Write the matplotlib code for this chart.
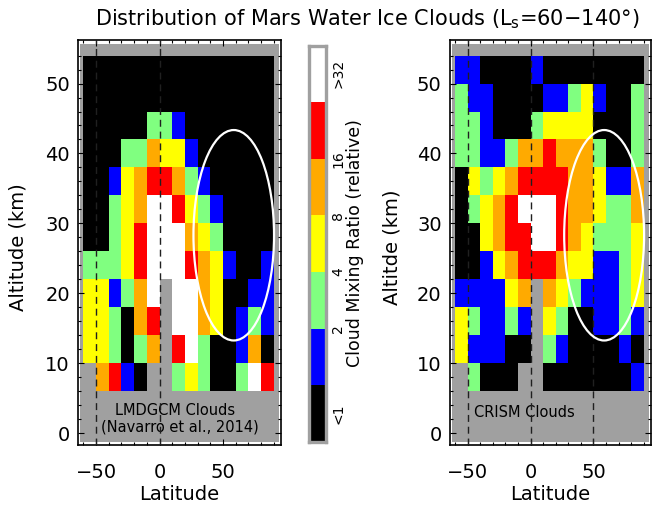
import numpy as np
import matplotlib
matplotlib.use("Agg")
import matplotlib.pyplot as plt
from matplotlib.colors import ListedColormap, BoundaryNorm
from matplotlib.patches import Ellipse, Rectangle
import matplotlib.transforms as mtransforms

# class index: 0 <1, 1 1-2, 2 2-4, 3 4-8, 4 8-16, 5 16-32, 6 >32, -1 no data
lat_edges = np.arange(-60, 100, 10)
alt_edges = np.arange(6, 58, 4)

# rows listed from top (50-54 km) down to bottom (6-10 km)
lmd_rows = [
  [0, 0, 0, 0, 0, 0, 0, 0, 0, 0, 0, 0, 0, 0, 0],
  [0, 0, 0, 0, 0, 0, 0, 0, 0, 0, 0, 0, 0, 0, 0],
  [0, 0, 0, 0, 0, 2, 2, 1, 0, 0, 0, 0, 0, 0, 0],
  [0, 0, 0, 2, 2, 4, 3, 3, 1, 0, 0, 0, 0, 0, 0],
  [0, 0, 1, 3, 4, 5, 5, 4, 2, 1, 0, 0, 0, 0, 0],
  [0, 0, 2, 3, 4, 6, 6, 5, 3, 2, 1, 0, 0, 0, 0],
  [0, 0, 2, 3, 5, 6, 6, 6, 4, 3, 2, 0, 0, 0, 0],
  [2, 2, 2, 3, 5, 6, 6, 6, 5, 4, 3, 1, 0, 0, 1],
  [3, 3, 1, 2, 4, 6, -1, 6, 6, 4, 3, 0, 0, 1, 1],
  [3, 3, 2, 0, 4, 5, -1, 6, 6, 4, 3, 0, 1, 2, 1],
  [3, 3, 2, 0, 2, 4, -1, 5, 6, 2, 0, 0, 1, 4, 0],
  [-1, 4, 5, 1, 0, -1, -1, 2, 3, 2, 0, 0, 2, 6, 5],
]

crism_rows = [
  [1, 1, 0, 0, 0, 0, 1, 0, 0, 0, 0, 0, 0, 0, 0],
  [2, 1, 1, 0, 0, 0, 0, 1, 1, 2, 3, 1, 0, 0, 2],
  [2, 2, 1, 0, 0, 0, 2, 3, 3, 3, 3, 0, 0, 0, 2],
  [2, 2, 1, 1, 2, 4, 4, 5, 4, 4, 4, 2, 0, 0, 2],
  [0, 3, 2, 3, 4, 5, 5, 5, 5, 4, 4, 3, 1, 1, 4],
  [0, 2, 3, 4, 5, 6, 6, 6, 5, 4, 4, 3, 2, 2, 4],
  [0, 0, 3, 4, 5, 5, 6, 6, 5, 4, 3, 2, 2, 2, 3],
  [0, 0, 1, 3, 4, 5, 5, 5, 4, 3, 3, 1, 1, 2, 3],
  [1, 1, 1, 1, 3, 4, -1, 4, 3, 2, 1, 1, 1, 2, 3],
  [3, 2, 1, 1, 2, 1, -1, 3, 2, 0, 0, 1, 1, 2, 1],
  [3, 1, 1, 1, 0, 0, -1, 2, 1, 0, 0, 0, 0, 1, 0],
  [-1, 2, 0, 0, 0, -1, -1, 0, 0, 0, 0, 0, 0, 0, 1],
]

cbar_labels = ["<1", "2", "4", "8", "16", ">32"]
cbar_label_pos = [0.5, 2, 3, 4, 5, 6.5]

colors = ["#000000", "#0000ff", "#80ff80", "#ffff00", "#ffaa00", "#ff0000", "#ffffff"]
gray = "#a0a0a0"
cmap = ListedColormap(colors)
norm = BoundaryNorm(np.arange(-0.5, 7.5, 1), cmap.N)

plt.rcParams["font.family"] = ["DejaVu Sans"]

fig = plt.figure(figsize=(6.52, 5.12), dpi=100)
W, H = 652.0, 512.0


def panel(rect, rows, dashes, note):
  ax = fig.add_axes(rect)
  ax.set_facecolor("white")
  ax.add_patch(Rectangle((0.008, 0.007), 0.984, 0.981, transform=ax.transAxes,
                         color=gray, zorder=0, lw=0))
  z = np.array(rows, dtype=float)[::-1]
  z = np.ma.masked_less(z, 0)
  ax.pcolormesh(lat_edges, alt_edges, z, cmap=cmap, norm=norm, zorder=1)
  for x, y, s, ha in note:
    ax.text(x, y, s, ha=ha, va="center", fontsize=10.5, zorder=2)
  for d in dashes:
    ax.axvline(d, color="#202020", ls=(0, (5, 3.5)), lw=1.0, zorder=3)
  ax.add_patch(Ellipse((58.5, 28.3), 63.5, 30.1, fill=False, ec="white",
                       lw=1.6, zorder=4))
  ax.set_xlim(-64, 95.5)
  ax.set_ylim(-1.7, 56.3)
  ax.set_xticks([-50, 0, 50])
  ax.set_xticks(np.arange(-60, 95, 10), minor=True)
  ax.set_yticks(np.arange(0, 51, 10))
  ax.set_yticks(np.arange(0, 56, 2), minor=True)
  ax.tick_params(which="both", direction="in", top=True, right=True, width=0.8)
  ax.tick_params(which="major", length=4, labelsize=14)
  ax.tick_params(which="minor", length=2)
  ax.tick_params(axis="x", which="major", pad=13)
  ax.tick_params(axis="y", which="major", pad=6)
  for sp in ax.spines.values():
    sp.set_linewidth(1.2)
  return ax


ax1 = panel([78.3 / W, 67 / H, 202.4 / W, 405.5 / H], lmd_rows, [-50, 0],
            [(12, 3.3, "LMDGCM Clouds", "center"),
             (16, 0.9, "(Navarro et al., 2014)", "center")])
ax2 = panel([450 / W, 67 / H, 200.7 / W, 405.5 / H], crism_rows, [-50, 0, 50],
            [(-45, 3.0, "CRISM Clouds", "left")])

# colorbar
cax = fig.add_axes([308.8 / W, (H - 441.7) / H, 17.4 / W, 396.2 / H])
cax.imshow(np.arange(7)[:, None], cmap=cmap, norm=norm, origin="lower",
           extent=[0, 1, 0, 7], aspect="auto")
cax.set_xticks([])
cax.set_yticks([])
for sp in cax.spines.values():
  sp.set_color(gray)
  sp.set_linewidth(2.4)
tr = mtransforms.blended_transform_factory(cax.transAxes, cax.transData)
for lab, pos in zip(cbar_labels, cbar_label_pos):
  cax.text(1.7, pos, lab, transform=tr, rotation=90, ha="center", va="center",
           fontsize=10)
fig.text(355 / W, (H - 243) / H, "Cloud Mixing Ratio (relative)", rotation=90,
         ha="center", va="center", fontsize=12.5)

# titles and labels
fig.text(367 / W, (H - 19) / H,
         "Distribution of Mars Water Ice Clouds (L$_\\mathrm{s}$=60\u2212140\u00b0)",
         ha="center", va="center", fontsize=15)
fig.text(18 / W, (H - 247) / H, "Altitude (km)", rotation=90, ha="center",
         va="center", fontsize=14)
fig.text(392 / W, (H - 247) / H, "Altitde (km)", rotation=90, ha="center",
         va="center", fontsize=14)
fig.text(179 / W, (H - 495) / H, "Latitude", ha="center", va="center", fontsize=14)
fig.text(550 / W, (H - 495) / H, "Latitude", ha="center", va="center", fontsize=14)

fig.savefig("out.png", dpi=100)
